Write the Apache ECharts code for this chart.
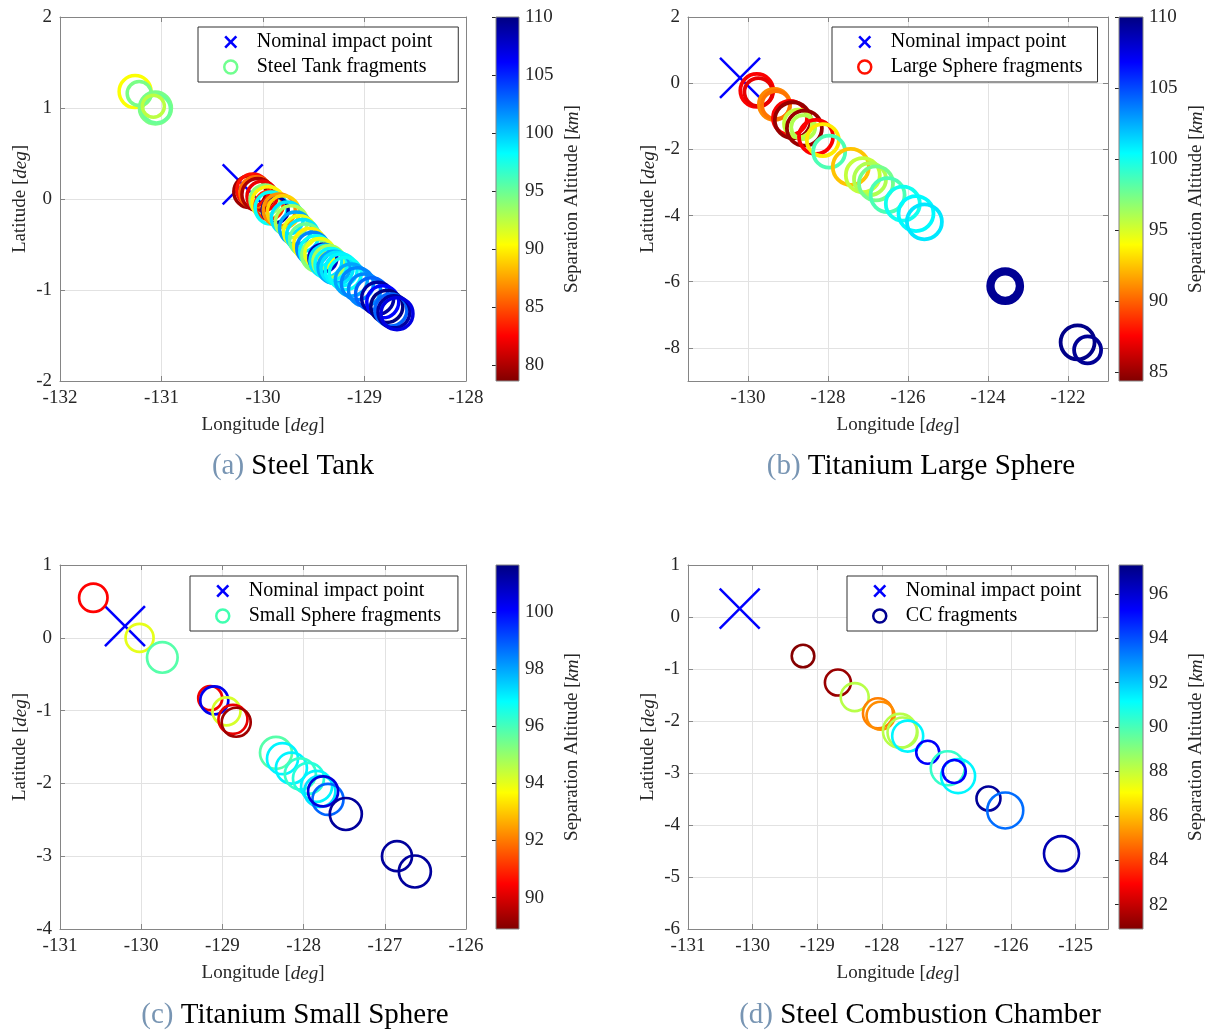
<!DOCTYPE html>
<html>
<head>
<meta charset="utf-8">
<title>Fragment impact footprints</title>
<script src="https://cdn.jsdelivr.net/npm/echarts@6.0.0/dist/echarts.min.js"></script>
<style>
  html, body { margin: 0; padding: 0; background: #fff; }
  #main { width: 1219px; height: 1032px; }
</style>
</head>
<body>
<div id="main"></div>
<script>
// nominal impact point (same in every panel)
var nominal = [-130.2, 0.16];

// (a) steel tank
var tankLon = [-131.26,-131.22,-131.06,-131.05,-131.08,-130.13,-130.10,-130.07,-130.05,-130.01,-129.98,-129.95,-129.94,-129.92,-129.88,-129.84,-129.80,-129.76,-129.72,-129.68,-129.64,-129.61,-129.58,-129.54,-129.51,-129.48,-129.46,-129.44,-129.41,-129.38,-129.35,-129.33,-129.30,-129.27,-129.23,-129.19,-129.13,-129.07,-129.00,-128.93,-128.87,-128.82,-128.78,-128.74,-128.71,-128.68];
var tankLat = [1.18,1.16,1.00,0.99,1.02,0.08,0.10,0.07,0.05,0.03,-0.01,-0.04,-0.07,-0.10,-0.12,-0.12,-0.14,-0.21,-0.25,-0.32,-0.36,-0.40,-0.45,-0.50,-0.54,-0.58,-0.62,-0.60,-0.65,-0.68,-0.69,-0.72,-0.75,-0.76,-0.78,-0.82,-0.89,-0.93,-1.00,-1.04,-1.09,-1.13,-1.18,-1.22,-1.24,-1.26];
var tankAlt = [90.5,94.5,94.5,95,92.5,79.5,83,86,80,82,94,90,84,98,109,87,89,99,93,101,91,99,95,90,102,98,94,91,108,99,93,98,101,99,98.5,98,101,102,102,103,109,106,110,103,109,107];
var tankSize = [16,12,16,14,11,16,16,16,16,15,15,16,14,16,13,16,16,16,16,16,16,16,16,16,16,16,16,15,14,16,16,16,16,16,16,16,16,16,16,16,16,16,16,16,16,16];

// (b) titanium large sphere
var largeLon = [-129.78,-129.74,-129.34,-129.30,-128.95,-128.88,-128.75,-128.59,-128.62,-128.30,-128.13,-127.97,-127.43,-127.13,-126.95,-126.80,-126.51,-126.13,-125.80,-125.59,-123.57,-123.57,-123.57,-121.76,-121.51];
var largeLat = [-0.22,-0.27,-0.64,-0.66,-1.05,-1.12,-1.22,-1.36,-1.33,-1.62,-1.72,-2.07,-2.53,-2.78,-2.90,-3.03,-3.38,-3.64,-3.94,-4.19,-6.13,-6.13,-6.13,-7.83,-8.06];
var largeAlt = [87.5,87,91,90.5,87.5,85,95.5,85,96,87.5,93.5,98.5,92.5,95.5,96,97.5,98.5,100,100.5,101,109.5,109.5,109.5,109.8,109.5];
var largeSize = [16.5,14,15.5,14,17,18,14,17.5,12,17,16,16,18,17,16,17,17,17,17.5,17.5,12.5,15,17,17,13.5];

// (c) titanium small sphere
var smallLon = [-130.59,-130.02,-129.74,-129.15,-129.10,-128.95,-128.87,-128.83,-128.34,-128.26,-128.15,-128.04,-127.94,-127.84,-127.80,-127.70,-127.76,-127.48,-126.85,-126.63];
var smallLat = [0.55,0.00,-0.27,-0.83,-0.86,-1.01,-1.12,-1.16,-1.58,-1.66,-1.79,-1.87,-1.93,-2.04,-2.11,-2.22,-2.11,-2.42,-3.00,-3.21];
var smallAlt = [90.5,94,95.8,90.3,100.3,94.2,90.2,89.3,95.8,97,97,96.2,96.4,97,97.2,98.8,100.5,101.3,101.3,101.3];
var smallSize = [14.2,14,15.3,12,14,14,14.5,14.5,16,15.5,15.5,15.5,15.5,15.5,15.5,15.5,15,16,15,16];

// (d) steel combustion chamber
var ccLon = [-129.22,-128.68,-128.42,-128.06,-128.02,-127.72,-127.68,-127.60,-127.29,-126.98,-126.82,-126.88,-126.35,-126.09,-125.22];
var ccLat = [-0.75,-1.26,-1.54,-1.85,-1.90,-2.19,-2.22,-2.29,-2.60,-2.91,-3.06,-2.97,-3.49,-3.72,-4.55];
var ccAlt = [81,81.3,88.2,85,85.2,88.2,88.3,91.3,95.3,90.3,91.3,95.3,96.9,93.5,96.5];
var ccSize = [11.3,13,14,15,14,17,15,15.5,11.5,17,17,11.5,12,18,17.5];

// axis limits and tick labels
var tankLonTicks = [-132,-131,-130,-129,-128];
var tankLatTicks = [-2,-1,0,1,2];
var tankAltTicks = [80,85,90,95,100,105,110];
var largeLonTicks = [-130,-128,-126,-124,-122];
var largeLatTicks = [-8,-6,-4,-2,0,2];
var largeAltTicks = [85,90,95,100,105,110];
var smallLonTicks = [-131,-130,-129,-128,-127,-126];
var smallLatTicks = [-4,-3,-2,-1,0,1];
var smallAltTicks = [90,92,94,96,98,100];
var ccLonTicks = [-131,-130,-129,-128,-127,-126,-125];
var ccLatTicks = [-6,-5,-4,-3,-2,-1,0,1];
var ccAltTicks = [82,84,86,88,90,92,94,96];

var SERIF = 'Liberation Serif';
var AXIS_COLOR = '#858585';
var GRID_COLOR = '#e2e2e2';
var TEXT_COLOR = '#262626';
// jet, reversed: low altitude = dark red, high altitude = dark blue
var JET = ['#800000','#ff0000','#ff8000','#ffff00','#80ff80','#00ffff','#0080ff','#0000ff','#000080'];
var X_ICON = 'path://M0,2L2,0L7,5L12,0L14,2L9,7L14,12L12,14L7,9L2,14L0,12L5,7Z';

function zip(lon, lat, alt, size) {
  return lon.map(function (v, i) { return [v, lat[i], alt[i], size[i]]; });
}

var panels = [
  { tag: 'a', title: 'Steel Tank', label: 'Steel Tank fragments', legendColor: '#70ff8f',
    data: zip(tankLon, tankLat, tankAlt, tankSize),
    lonRange: [-132, -128], latRange: [-2, 2], altRange: [78.65, 110],
    lonTicks: tankLonTicks, latTicks: tankLatTicks, altTicks: tankAltTicks,
    box: [60, 17, 406, 364], bar: [496, 17, 23, 364], lw: 3.5,
    legend: [198, 27, 26], caption: [293, 466] },
  { tag: 'b', title: 'Titanium Large Sphere', label: 'Large Sphere fragments', legendColor: '#ff1000',
    data: zip(largeLon, largeLat, largeAlt, largeSize),
    lonRange: [-131.5, -121], latRange: [-9, 2], altRange: [84.4, 110],
    lonTicks: largeLonTicks, latTicks: largeLatTicks, altTicks: largeAltTicks,
    box: [688, 17, 420, 364], bar: [1119, 17, 24, 364], lw: 3.8,
    legend: [832, 27, 15], caption: [921, 466] },
  { tag: 'c', title: 'Titanium Small Sphere', label: 'Small Sphere fragments', legendColor: '#40ffb0',
    data: zip(smallLon, smallLat, smallAlt, smallSize),
    lonRange: [-131, -126], latRange: [-4, 1], altRange: [88.9, 101.65],
    lonTicks: smallLonTicks, latTicks: smallLatTicks, altTicks: smallAltTicks,
    box: [60, 565, 406, 364], bar: [496, 565, 23, 364], lw: 2.7,
    legend: [190, 576, 17], caption: [295, 1015] },
  { tag: 'd', title: 'Steel Combustion Chamber', label: 'CC fragments', legendColor: '#000090',
    data: zip(ccLon, ccLat, ccAlt, ccSize),
    lonRange: [-131, -124.5], latRange: [-6, 1], altRange: [80.9, 97.3],
    lonTicks: ccLonTicks, latTicks: ccLatTicks, altTicks: ccAltTicks,
    box: [688, 565, 420, 364], bar: [1119, 565, 24, 364], lw: 2.6,
    legend: [847, 576, 16], caption: [920, 1015] }
];

var nameRich = {
  n: { fontFamily: SERIF, fontSize: 19, color: TEXT_COLOR },
  i: { fontFamily: SERIF, fontSize: 19, color: TEXT_COLOR, fontStyle: 'italic' }
};

function valueAxis(gi, pos, range, ticks, main, name) {
  var ax = {
    type: 'value', gridIndex: gi, position: pos, min: range[0], max: range[1],
    axisLine: { show: true, onZero: false, lineStyle: { color: AXIS_COLOR, width: 1 } },
    axisTick: { show: true, inside: true, length: 5, customValues: ticks, lineStyle: { color: AXIS_COLOR } },
    axisLabel: { show: main, customValues: ticks, margin: 8, fontSize: 19, color: TEXT_COLOR, fontFamily: SERIF },
    splitLine: { show: main, lineStyle: { color: GRID_COLOR, width: 1 } }
  };
  if (name) {
    ax.name = name;
    ax.nameLocation = 'middle';
    ax.nameTextStyle = { rich: nameRich };
    if (pos === 'left') {
      ax.nameRotate = 90;
      ax.nameGap = 30;
    } else {
      ax.nameGap = 35;
    }
  }
  return ax;
}

// colour bar axis on the right of each panel
function barAxis(gi, range, ticks) {
  return {
    type: 'value', gridIndex: gi, position: 'right', min: range[0], max: range[1],
    axisLine: { show: false },
    axisTick: { show: true, inside: true, length: 4, customValues: ticks, lineStyle: { color: TEXT_COLOR } },
    axisLabel: { customValues: ticks, margin: 6, fontSize: 19, color: TEXT_COLOR, fontFamily: SERIF },
    splitLine: { show: false },
    name: '{n|Separation Altitude [}{i|km}{n|]}',
    nameLocation: 'middle', nameRotate: 90, nameGap: 44,
    nameTextStyle: { rich: nameRich }
  };
}

function crossItem(params, api) {
  var c = api.coord([api.value(0), api.value(1)]);
  var h = 20;
  var st = { stroke: '#0000ff', lineWidth: 2.5 };
  return {
    type: 'group',
    children: [
      { type: 'line', shape: { x1: c[0] - h, y1: c[1] - h, x2: c[0] + h, y2: c[1] + h }, style: st },
      { type: 'line', shape: { x1: c[0] - h, y1: c[1] + h, x2: c[0] + h, y2: c[1] - h }, style: st }
    ]
  };
}

function ringItem(lw) {
  return function (params, api) {
    var c = api.coord([api.value(0), api.value(1)]);
    return {
      type: 'circle',
      shape: { cx: c[0], cy: c[1], r: api.value(3) },
      style: { fill: 'none', stroke: api.visual('color'), lineWidth: lw }
    };
  };
}

function barItem(params, api) {
  var p0 = api.coord([0, api.value(0)]);
  var p1 = api.coord([1, api.value(1)]);
  var stops = JET.map(function (c, i) { return { offset: i / (JET.length - 1), color: c }; });
  return {
    type: 'rect',
    shape: { x: p0[0], y: p1[1], width: p1[0] - p0[0], height: p0[1] - p1[1] },
    style: {
      fill: { type: 'linear', x: 0, y: 1, x2: 0, y2: 0, colorStops: stops },
      stroke: AXIS_COLOR, lineWidth: 1
    }
  };
}

var option = {
  animation: false,
  backgroundColor: '#fff',
  textStyle: { fontFamily: SERIF },
  grid: [], xAxis: [], yAxis: [], series: [], visualMap: [], legend: [], graphic: []
};

panels.forEach(function (p) {
  var gMain = option.grid.length;
  option.grid.push({ left: p.box[0], top: p.box[1], width: p.box[2], height: p.box[3] });
  var gBar = option.grid.length;
  option.grid.push({ left: p.bar[0], top: p.bar[1], width: p.bar[2], height: p.bar[3] });

  var xi = option.xAxis.length;
  option.xAxis.push(valueAxis(gMain, 'bottom', p.lonRange, p.lonTicks, true, '{n|Longitude [}{i|deg}{n|]}'));
  option.xAxis.push(valueAxis(gMain, 'top', p.lonRange, p.lonTicks, false));
  option.xAxis.push({ type: 'value', gridIndex: gBar, min: 0, max: 1, show: false });

  var yi = option.yAxis.length;
  option.yAxis.push(valueAxis(gMain, 'left', p.latRange, p.latTicks, true, '{n|Latitude [}{i|deg}{n|]}'));
  option.yAxis.push(valueAxis(gMain, 'right', p.latRange, p.latTicks, false));
  option.yAxis.push(barAxis(gBar, p.altRange, p.altTicks));

  option.series.push({
    type: 'custom', name: 'Nominal impact point', xAxisIndex: xi, yAxisIndex: yi,
    data: [nominal], renderItem: crossItem, silent: true
  });
  var sRing = option.series.length;
  option.series.push({
    type: 'custom', name: p.label, xAxisIndex: xi, yAxisIndex: yi,
    dimensions: ['lon', 'lat', 'alt', 'size'], encode: { x: 0, y: 1 },
    data: p.data, renderItem: ringItem(p.lw), silent: true
  });
  option.series.push({
    type: 'custom', xAxisIndex: xi + 2, yAxisIndex: yi + 2,
    data: [p.altRange], renderItem: barItem, silent: true
  });

  option.visualMap.push({
    show: false, seriesIndex: sRing, dimension: 2,
    min: p.altRange[0], max: p.altRange[1], inRange: { color: JET }
  });

  option.legend.push({
    left: p.legend[0], top: p.legend[1], orient: 'vertical', selectedMode: false,
    backgroundColor: '#fff', borderColor: '#303030', borderWidth: 1, borderRadius: 0,
    padding: [5, p.legend[2], 5, 25], itemGap: 5, itemWidth: 42, itemHeight: 13,
    textStyle: { fontFamily: SERIF, fontSize: 20, color: '#000' },
    data: [
      { name: 'Nominal impact point', icon: X_ICON, itemStyle: { color: '#0000ff', borderWidth: 0 } },
      { name: p.label, icon: 'circle', itemStyle: { color: 'rgba(255,255,255,0)', borderColor: p.legendColor, borderWidth: 2.5 } }
    ]
  });

  option.graphic.push({
    type: 'text', x: p.caption[0], y: p.caption[1],
    style: {
      text: '{p|(' + p.tag + ')} ' + p.title,
      rich: { p: { fill: '#7895b3', fontSize: 29, fontFamily: SERIF } },
      fill: '#000', fontSize: 29, fontFamily: SERIF,
      align: 'center', verticalAlign: 'middle', textAlign: 'center', textVerticalAlign: 'middle'
    }
  });
});

var chart = echarts.init(document.getElementById('main'), null, { renderer: 'canvas' });
chart.setOption(option);
</script>
</body>
</html>
